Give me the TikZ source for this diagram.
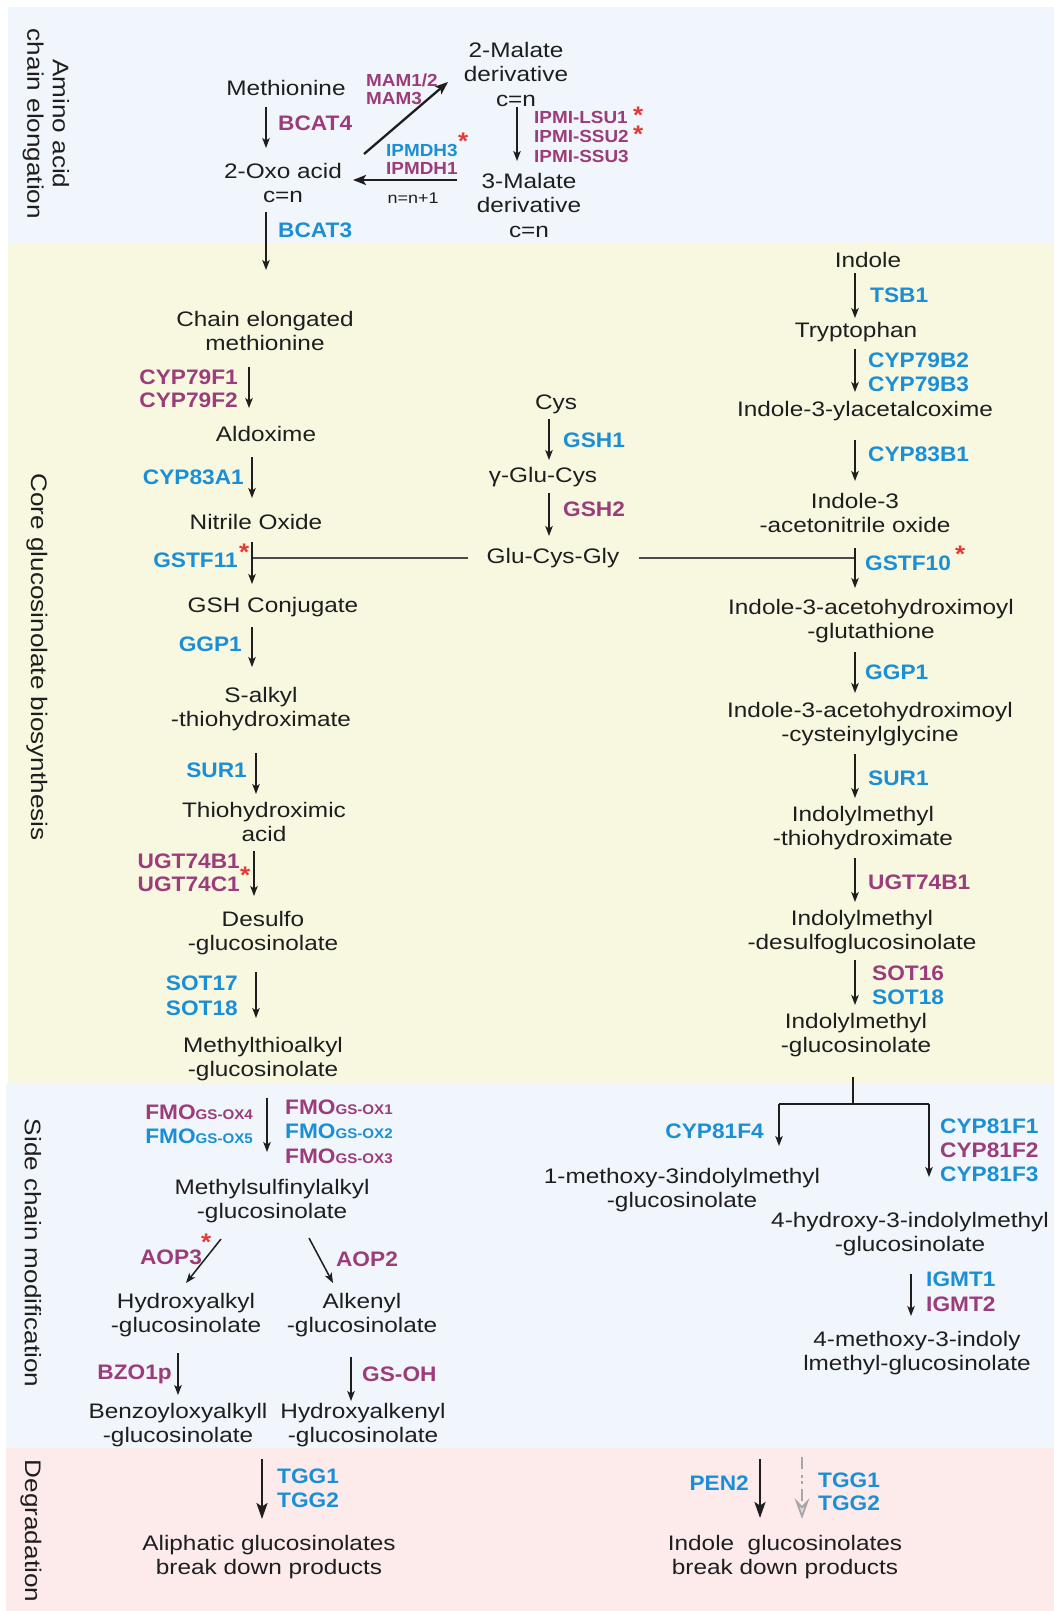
\documentclass[tikz,border=0pt]{standalone}
\usepackage{fontspec}
\setmainfont{Liberation Sans}
\newfontfamily\tf[FakeStretch=1.16]{Liberation Sans}
\newfontfamily\ef[FakeStretch=1.08]{Liberation Sans}
\usetikzlibrary{arrows.meta}
\definecolor{pur}{HTML}{9B3C7B}
\definecolor{blu}{HTML}{1B8FD5}
\definecolor{rstar}{HTML}{E53935}
\definecolor{ink}{HTML}{1E1E1E}
\definecolor{bgblue}{HTML}{F1F6FC}
\definecolor{bgyel}{HTML}{F8F8E0}
\definecolor{bgpink}{HTML}{FDEBEB}
\begin{document}
\begin{tikzpicture}[x=1pt,y=-1pt,
  txt/.style={inner sep=0pt,align=center,text=ink,font=\tf\fontsize{21}{24.5}\selectfont},
  stxt/.style={inner sep=0pt,align=center,text=ink,font=\tf\fontsize{15.5}{17}\selectfont},
  side/.style={inner sep=0pt,align=center,text=ink,rotate=-90,font=\tf\fontsize{22.5}{25.5}\selectfont},
  enz/.style={inner sep=0pt,font=\ef\bfseries\fontsize{21}{24}\selectfont},
  pe/.style={enz,text=pur}, be/.style={enz,text=blu},
  senz/.style={inner sep=0pt,font=\ef\bfseries\fontsize{17.5}{19}\selectfont},
  spe/.style={senz,text=pur}, sbe/.style={senz,text=blu},
  rst/.style={inner sep=0pt,text=rstar,anchor=north west,font=\ef\bfseries\fontsize{24}{24}\selectfont},
  arr/.style={draw=ink,line width=1.5pt,-{Stealth[length=10pt,width=7.5pt,inset=2.5pt]}},
  tarr/.style={draw=ink,line width=2.3pt,-{Stealth[length=13pt,width=10pt,inset=3pt]}},
  darr/.style={draw=ink,line width=2.4pt,-{Stealth[length=16pt,width=11pt,inset=3.5pt]}},
  link/.style={draw=ink!80,line width=1.5pt},
]
\useasboundingbox (0,0) rectangle (1054,1611);
% panels
\fill[white] (0,0) rectangle (1054,1611);
\fill[bgblue] (8,7) rectangle (1054,244);
\fill[bgyel] (8,244) rectangle (1054,1084);
\fill[bgblue] (6,1084) rectangle (1054,1448);
\fill[bgpink] (6,1448) rectangle (1054,1611);
% side labels
\node[side] (s1) at (46,124) {Amino acid\\chain elongation};
\node[side] (s2) at (37,657) {Core glucosinolate biosynthesis};
\node[side] (s3) at (33,1253) {Side chain modification};
\node[side] (s4) at (31,1531) {Degradation};

% ---------- amino acid chain elongation ----------
\node[txt] (meth) at (286,88) {Methionine};
\node[txt] (oxo) at (283,183) {2-Oxo acid\\c=n};
\node[txt] (mal2) at (516,74) {2-Malate\\derivative\\c=n};
\node[txt] (mal3) at (529,205) {3-Malate\\derivative\\c=n};
\node[pe,anchor=west] (bcat4) at (278,123) {BCAT4};
\node[be,anchor=west] (bcat3) at (278,230) {BCAT3};
\node[spe,anchor=west] (mam12) at (366,80) {MAM1/2};
\node[spe,anchor=west] (mam3) at (366,98) {MAM3};
\node[spe,anchor=west] (lsu1) at (534,117) {IPMI-LSU1};
\node[spe,anchor=west] (ssu2) at (534,136) {IPMI-SSU2};
\node[spe,anchor=west] (ssu3) at (534,156) {IPMI-SSU3};
\node[sbe,anchor=west] (dh3) at (386,150) {IPMDH3};
\node[spe,anchor=west] (dh1) at (386,168) {IPMDH1};
\node[stxt] (nn) at (413,198) {n=n+1};
\node[rst] (st1) at (633,107) {*};
\node[rst] (st2) at (633,126) {*};
\node[rst] (st3) at (458,133) {*};
\path (266,107) coordinate (a1s) (266,148) coordinate (a1e);
\draw[arr] (a1s) -- (a1e);
\path (266,212) coordinate (a2s) (266,270) coordinate (a2e);
\draw[arr] (a2s) -- (a2e);
\path (364,154) coordinate (a3s) (448,82) coordinate (a3e);
\draw[tarr] (a3s) -- (a3e);
\path (517,107) coordinate (a4s) (517,161) coordinate (a4e);
\draw[arr] (a4s) -- (a4e);
\path (457,180) coordinate (a5s) (353,180) coordinate (a5e);
\draw[tarr] (a5s) -- (a5e);

% ---------- core: aliphatic ----------
\node[txt] (chain) at (265,331) {Chain elongated\\methionine};
\node[txt] (aldox) at (266,434) {Aldoxime};
\node[txt] (nitr) at (256,522) {Nitrile Oxide};
\node[txt] (gshc) at (273,607) {GSH Conjugate};
\node[txt] (salk) at (261,709) {S-alkyl\\-thiohydroximate};
\node[txt] (thio) at (264,822) {Thiohydroximic\\acid};
\node[txt] (desulf) at (263,933) {Desulfo\\-glucosinolate};
\node[txt] (mthio) at (263,1059) {Methylthioalkyl\\-glucosinolate};
\node[pe,anchor=east] (c79f1) at (238,377) {CYP79F1};
\node[pe,anchor=east] (c79f2) at (238,400) {CYP79F2};
\node[be,anchor=east] (c83a1) at (244,477) {CYP83A1};
\node[be,anchor=east] (gstf11) at (238,560) {GSTF11};
\node[rst] (st4) at (239,544) {*};
\node[be,anchor=east] (ggp1a) at (242,644) {GGP1};
\node[be,anchor=east] (sur1a) at (247,770) {SUR1};
\node[pe,anchor=east] (ugtb1a) at (240,861) {UGT74B1};
\node[pe,anchor=east] (ugtc1) at (240,884) {UGT74C1};
\node[rst] (st5) at (240,867) {*};
\node[be,anchor=east] (sot17) at (238,983) {SOT17};
\node[be,anchor=east] (sot18a) at (238,1008) {SOT18};
\path (249,367) coordinate (b1s) (249,408) coordinate (b1e);
\draw[arr] (b1s) -- (b1e);
\path (252,457) coordinate (b2s) (252,498) coordinate (b2e);
\draw[arr] (b2s) -- (b2e);
\path (252,542) coordinate (b3s) (252,584) coordinate (b3e);
\draw[arr] (b3s) -- (b3e);
\path (252,627) coordinate (b4s) (252,667) coordinate (b4e);
\draw[arr] (b4s) -- (b4e);
\path (256,753) coordinate (b5s) (256,794) coordinate (b5e);
\draw[arr] (b5s) -- (b5e);
\path (254,851) coordinate (b6s) (254,896) coordinate (b6e);
\draw[arr] (b6s) -- (b6e);
\path (256,972) coordinate (b7s) (256,1018) coordinate (b7e);
\draw[arr] (b7s) -- (b7e);

% ---------- core: glutathione ----------
\node[txt] (cys) at (556,404) {Cys};
\node[txt] (gglu) at (543,477) {γ-Glu-Cys};
\node[txt] (gcg) at (553,558) {Glu-Cys-Gly};
\node[be,anchor=west] (gsh1) at (563,440) {GSH1};
\node[pe,anchor=west] (gsh2) at (563,509) {GSH2};
\path (549,419) coordinate (c1s) (549,460) coordinate (c1e);
\draw[arr] (c1s) -- (c1e);
\path (549,493) coordinate (c2s) (549,536) coordinate (c2e);
\draw[arr] (c2s) -- (c2e);
\path (253,558) coordinate (jl) (855,558) coordinate (jr);
\draw[link] ([xshift=-18pt]gcg.west) -- (jl);
\draw[link] ([xshift=19pt]gcg.east) -- (jr);

% ---------- core: indole ----------
\node[txt] (indole) at (868,260) {Indole};
\node[txt] (trp) at (856,332) {Tryptophan};
\node[txt] (iac) at (865,411) {Indole-3-ylacetalcoxime};
\node[txt] (iao) at (855,513) {Indole-3\\-acetonitrile oxide};
\node[txt] (iag) at (871,621) {Indole-3-acetohydroximoyl\\-glutathione};
\node[txt] (iacg) at (870,724) {Indole-3-acetohydroximoyl\\-cysteinylglycine};
\node[txt] (imt) at (863,828) {Indolylmethyl\\-thiohydroximate};
\node[txt] (imd) at (862,932) {Indolylmethyl\\-desulfoglucosinolate};
\node[txt] (img) at (856,1035) {Indolylmethyl\\-glucosinolate};
\node[be,anchor=west] (tsb1) at (870,295) {TSB1};
\node[be,anchor=west] (c79b2) at (868,360) {CYP79B2};
\node[be,anchor=west] (c79b3) at (868,384) {CYP79B3};
\node[be,anchor=west] (c83b1) at (868,454) {CYP83B1};
\node[be,anchor=west] (gstf10) at (865,563) {GSTF10};
\node[rst] (st6) at (955,546) {*};
\node[be,anchor=west] (ggp1b) at (865,672) {GGP1};
\node[be,anchor=west] (sur1b) at (868,778) {SUR1};
\node[pe,anchor=west] (ugtb1b) at (868,882) {UGT74B1};
\node[pe,anchor=west] (sot16) at (872,973) {SOT16};
\node[be,anchor=west] (sot18b) at (872,997) {SOT18};
\path (855,273) coordinate (d1s) (855,318) coordinate (d1e);
\draw[arr] (d1s) -- (d1e);
\path (855,349) coordinate (d2s) (855,392) coordinate (d2e);
\draw[arr] (d2s) -- (d2e);
\path (855,440) coordinate (d3s) (855,481) coordinate (d3e);
\draw[arr] (d3s) -- (d3e);
\path (855,548) coordinate (d4s) (855,588) coordinate (d4e);
\draw[arr] (d4s) -- (d4e);
\path (855,652) coordinate (d5s) (855,693) coordinate (d5e);
\draw[arr] (d5s) -- (d5e);
\path (855,754) coordinate (d6s) (855,798) coordinate (d6e);
\draw[arr] (d6s) -- (d6e);
\path (855,858) coordinate (d7s) (855,902) coordinate (d7e);
\draw[arr] (d7s) -- (d7e);
\path (855,960) coordinate (d8s) (855,1005) coordinate (d8e);
\draw[arr] (d8s) -- (d8e);

% ---------- side chain: indole ----------
\path (853,1077) coordinate (e0) (853,1104) coordinate (e1)
      (779,1104) coordinate (eL) (929,1104) coordinate (eR)
      (779,1146) coordinate (eLe) (929,1177) coordinate (eRe);
\draw[link,draw=ink] (e0) -- (e1);
\draw[link,draw=ink] (eL) -- (eR);
\draw[arr] (eL) -- (eLe);
\draw[arr] (eR) -- (eRe);
\node[be,anchor=east] (c81f4) at (764,1131) {CYP81F4};
\node[be,anchor=west] (c81f1) at (940,1126) {CYP81F1};
\node[pe,anchor=west] (c81f2) at (940,1150) {CYP81F2};
\node[be,anchor=west] (c81f3) at (940,1174) {CYP81F3};
\node[txt] (m1) at (682,1190) {1-methoxy-3indolylmethyl\\-glucosinolate};
\node[txt] (h4) at (910,1234) {4-hydroxy-3-indolylmethyl\\-glucosinolate};
\node[txt] (m4) at (917,1353) {4-methoxy-3-indoly\\lmethyl-glucosinolate};
\node[be,anchor=west] (igmt1) at (926,1279) {IGMT1};
\node[pe,anchor=west] (igmt2) at (926,1304) {IGMT2};
\path (911,1274) coordinate (f1s) (911,1316) coordinate (f1e);
\draw[arr] (f1s) -- (f1e);

% ---------- side chain: aliphatic ----------
\node[pe,anchor=east] (fmo4) at (253,1112) {FMO{\fontsize{14}{14}\selectfont GS-OX4}};
\node[be,anchor=east] (fmo5) at (253,1136) {FMO{\fontsize{14}{14}\selectfont GS-OX5}};
\node[pe,anchor=west] (fmo1) at (285,1107) {FMO{\fontsize{14}{14}\selectfont GS-OX1}};
\node[be,anchor=west] (fmo2) at (285,1131) {FMO{\fontsize{14}{14}\selectfont GS-OX2}};
\node[pe,anchor=west] (fmo3) at (285,1156) {FMO{\fontsize{14}{14}\selectfont GS-OX3}};
\path (267,1098) coordinate (g1s) (267,1152) coordinate (g1e);
\draw[arr] (g1s) -- (g1e);
\node[txt] (msa) at (272,1201) {Methylsulfinylalkyl\\-glucosinolate};
\path (221,1239) coordinate (g2s) (186,1283) coordinate (g2e);
\draw[arr] (g2s) -- (g2e);
\path (309,1238) coordinate (g3s) (333,1283) coordinate (g3e);
\draw[arr] (g3s) -- (g3e);
\node[pe] (aop3) at (171,1257) {AOP3};
\node[rst] (st7) at (201,1234) {*};
\node[pe] (aop2) at (367,1259) {AOP2};
\node[txt] (hya) at (186,1315) {Hydroxyalkyl\\-glucosinolate};
\node[txt] (alk) at (362,1315) {Alkenyl\\-glucosinolate};
\path (178,1353) coordinate (g4s) (178,1395) coordinate (g4e);
\draw[arr] (g4s) -- (g4e);
\path (351,1357) coordinate (g5s) (351,1401) coordinate (g5e);
\draw[arr] (g5s) -- (g5e);
\node[pe,anchor=east] (bzo1p) at (172,1374) {BZO1p};
\node[pe,anchor=west] (gsoh) at (362,1374) {GS-OH};
\node[txt] (bzo) at (178,1425) {Benzoyloxyalkyll\\-glucosinolate};
\node[txt] (hyk) at (363,1425) {Hydroxyalkenyl\\-glucosinolate};

% ---------- degradation ----------
\path (262,1459) coordinate (h1s) (262,1519) coordinate (h1e);
\draw[darr] (h1s) -- (h1e);
\node[be,anchor=west] (tgg1a) at (277,1476) {TGG1};
\node[be,anchor=west] (tgg2a) at (277,1500) {TGG2};
\node[txt] (alip) at (269,1557) {Aliphatic glucosinolates\\break down products};
\node[be,anchor=east] (pen2) at (749,1483) {PEN2};
\path (760,1459) coordinate (h2s) (760,1518) coordinate (h2e);
\draw[darr] (h2s) -- (h2e);
\path (802,1457) coordinate (h3s) (802,1519) coordinate (h3e);
\draw[draw=gray!70,line width=2.4pt,dash pattern=on 12pt off 6pt on 3pt off 3pt on 3pt off 5pt,
  -{Stealth[open,length=21pt,width=15pt,inset=8pt,fill=gray!25,line width=1.8pt]}] (h3s) -- (h3e);
\node[be,anchor=west] (tgg1b) at (818,1480) {TGG1};
\node[be,anchor=west] (tgg2b) at (818,1503) {TGG2};
\node[txt] (indg) at (785,1557) {Indole\ \ glucosinolates\\break down products};
\end{tikzpicture}
\end{document}
